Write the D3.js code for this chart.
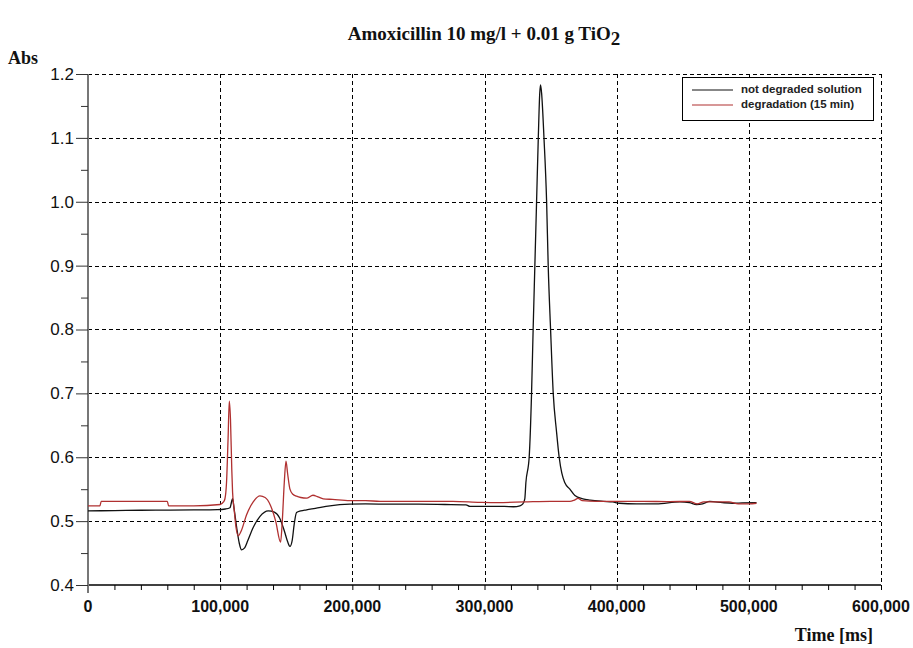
<!DOCTYPE html>
<html>
<head>
<meta charset="utf-8">
<script src="https://cdn.jsdelivr.net/npm/d3@7"></script>
<style>
  body { margin: 0; background: #fff; }
  svg { display: block; }
</style>
</head>
<body>
<svg id="chart" width="913" height="648"></svg>
<script>
// ---- Data ----
const xTicks = [0, 100000, 200000, 300000, 400000, 500000, 600000];
const yTicks = [0.4, 0.5, 0.6, 0.7, 0.8, 0.9, 1.0, 1.1, 1.2];
const seriesNames = ["not degraded solution", "degradation (15 min)"];

const notDegradedTime = [0, 20000, 40000, 60000, 80000, 98000, 104000, 107400, 109400, 110500, 112500, 114500, 116200, 118500, 121000, 125000, 130000, 136400, 141000, 145000, 148500, 151000, 152800, 154500, 156000, 157800, 161000, 165400, 172000, 183000, 198000, 210000, 230000, 250000, 270000, 286000, 289000, 300000, 315000, 322000, 326800, 329000, 330500, 331300, 333800, 335600, 336800, 338100, 339400, 340700, 341800, 342400, 343200, 345000, 347000, 348200, 350000, 352000, 354500, 356500, 358500, 360800, 364600, 368400, 374400, 380000, 390000, 397000, 402000, 415000, 430000, 447800, 455000, 460400, 465000, 470500, 480000, 488000, 495000, 505800];
const notDegradedAbs = [0.516, 0.5165, 0.517, 0.5172, 0.5175, 0.518, 0.519, 0.521, 0.535, 0.52, 0.49, 0.465, 0.455, 0.458, 0.47, 0.49, 0.507, 0.516, 0.514, 0.505, 0.485, 0.468, 0.4605, 0.47, 0.495, 0.5135, 0.516, 0.5177, 0.52, 0.524, 0.5266, 0.527, 0.5265, 0.5265, 0.526, 0.5255, 0.523, 0.523, 0.523, 0.5225, 0.524, 0.527, 0.535, 0.56, 0.6, 0.7, 0.8, 0.9, 1.0, 1.1, 1.17, 1.183, 1.17, 1.1, 1.0, 0.9, 0.8, 0.7, 0.64, 0.6, 0.575, 0.56, 0.55, 0.54, 0.535, 0.533, 0.531, 0.53, 0.528, 0.527, 0.527, 0.53, 0.529, 0.526, 0.527, 0.531, 0.529, 0.528, 0.5285, 0.529];

const degradedTime = [0, 9000, 10000, 60000, 61000, 80000, 100000, 102500, 103600, 104800, 106000, 106900, 107800, 108800, 109400, 110500, 112000, 113700, 116000, 120000, 125000, 130100, 134000, 138000, 142000, 145700, 147000, 148500, 149800, 151000, 152800, 155000, 157800, 161000, 165400, 170200, 174000, 178000, 185000, 198000, 210000, 221000, 236000, 256000, 276000, 296500, 310000, 330000, 350000, 364600, 368000, 370700, 374000, 385000, 400000, 420000, 440000, 455000, 461000, 466000, 475000, 485000, 492000, 500000, 505800];
const degradedAbs = [0.524, 0.524, 0.531, 0.531, 0.524, 0.524, 0.526, 0.53, 0.535, 0.56, 0.63, 0.688, 0.66, 0.58, 0.545, 0.52, 0.49, 0.477, 0.485, 0.51, 0.53, 0.5395, 0.537, 0.525, 0.5, 0.467, 0.5, 0.56, 0.594, 0.575, 0.55, 0.542, 0.539, 0.537, 0.536, 0.5405, 0.538, 0.535, 0.534, 0.532, 0.532, 0.531, 0.531, 0.531, 0.531, 0.5295, 0.529, 0.53, 0.531, 0.531, 0.533, 0.5355, 0.532, 0.531, 0.531, 0.531, 0.5305, 0.531, 0.527, 0.53, 0.53, 0.53, 0.527, 0.527, 0.528];

// ---- Layout ----
const svg = d3.select("#chart");
const margin = { left: 88, right: 32, top: 74, bottom: 63 };
const W = 913, H = 648;
const x = d3.scaleLinear().domain([0, 600000]).range([margin.left, W - margin.right]);
const y = d3.scaleLinear().domain([0.4, 1.2]).range([H - margin.bottom, margin.top]);

// Grid
const grid = svg.append("g").attr("stroke", "#000").attr("stroke-width", 1).attr("stroke-dasharray", "4,3");
grid.selectAll(".vg").data(xTicks.slice(1)).join("line")
  .attr("x1", d => Math.round(x(d)) + 0.5).attr("x2", d => Math.round(x(d)) + 0.5)
  .attr("y1", y(1.2)).attr("y2", y(0.4));
grid.selectAll(".hg").data(yTicks.slice(1)).join("line")
  .attr("x1", x(0)).attr("x2", x(600000))
  .attr("y1", d => Math.round(y(d)) + 0.5).attr("y2", d => Math.round(y(d)) + 0.5);

// X axis
const xAxis = d3.axisBottom(x).tickValues(d3.range(0, 600001, 20000)).tickSize(5).tickFormat("");
const gx = svg.append("g").attr("transform", `translate(0,${y(0.4)})`).call(xAxis);
gx.select(".domain").attr("stroke", "#000").attr("stroke-width", 1.5).attr("d", `M${x(0)},0H${x(600000)}`);
gx.selectAll(".tick line").attr("stroke", "#000");
svg.append("g").selectAll("text").data(xTicks).join("text")
  .attr("x", d => x(d)).attr("y", y(0.4) + 27)
  .attr("text-anchor", "middle")
  .attr("font-family", "'Liberation Sans', Arial, sans-serif")
  .attr("font-weight", "bold").attr("font-size", 16)
  .attr("fill", "#111")
  .text(d => d3.format(",")(d));

// Y axis
const yAxis = d3.axisLeft(y).tickValues(yTicks).tickSize(12).tickFormat(d3.format(".1f"));
const gy = svg.append("g").attr("transform", `translate(${x(0)},0)`).call(yAxis);
gy.select(".domain").attr("stroke", "#777").attr("stroke-width", 2).attr("d", `M0,${y(1.2)}V${y(0.4) + 8}`);
gy.selectAll(".tick line").attr("stroke", "#333").attr("x2", -12);
gy.selectAll(".tick text").attr("x", -14)
  .attr("font-family", "'Liberation Sans', Arial, sans-serif").attr("font-size", 17).attr("fill", "#111");
const yMinor = d3.axisLeft(y).tickValues(d3.range(0.45, 1.2, 0.1)).tickSize(7).tickFormat("");
const gym = svg.append("g").attr("transform", `translate(${x(0)},0)`).call(yMinor);
gym.select(".domain").remove();
gym.selectAll(".tick line").attr("stroke", "#333");

// Lines
const line = d3.line().x(d => x(d[0])).y(d => y(d[1])).curve(d3.curveMonotoneX);
const blackData = notDegradedTime.map((t, i) => [t, notDegradedAbs[i]]);
const redData = degradedTime.map((t, i) => [t, degradedAbs[i]]);
svg.append("path").datum(blackData).attr("d", line).attr("fill", "none")
  .attr("stroke", "#111").attr("stroke-width", 1.3);
svg.append("path").datum(redData).attr("d", line).attr("fill", "none")
  .attr("stroke", "#b03030").attr("stroke-width", 1.3);

// Title
const title = svg.append("text").attr("x", 484).attr("y", 40).attr("text-anchor", "middle")
  .attr("font-family", "'Liberation Serif', 'Times New Roman', serif")
  .attr("font-weight", "bold").attr("font-size", 19).attr("fill", "#111");
title.append("tspan").text("Amoxicillin 10 mg/l + 0.01 g TiO");
title.append("tspan").attr("dy", 5).text("2");

svg.append("text").attr("x", 8).attr("y", 64)
  .attr("font-family", "'Liberation Serif', 'Times New Roman', serif")
  .attr("font-weight", "bold").attr("font-size", 18).attr("fill", "#111").text("Abs");
svg.append("text").attr("x", 873).attr("y", 641).attr("text-anchor", "end")
  .attr("font-family", "'Liberation Serif', 'Times New Roman', serif")
  .attr("font-weight", "bold").attr("font-size", 18).attr("fill", "#111").text("Time [ms]");

// Legend
const lg = svg.append("g");
lg.append("rect").attr("x", 682.5).attr("y", 77.5).attr("width", 191).attr("height", 43)
  .attr("fill", "#fff").attr("stroke", "#000").attr("stroke-width", 1);
const colors = ["#111", "#b03030"];
seriesNames.forEach((name, i) => {
  const yy = 90 + i * 15;
  lg.append("line").attr("x1", 692).attr("x2", 733).attr("y1", yy).attr("y2", yy)
    .attr("stroke", colors[i]).attr("stroke-width", 1.2);
  lg.append("text").attr("x", 741).attr("y", yy + 3)
    .attr("font-family", "'Liberation Sans', Arial, sans-serif").attr("font-size", 11.5)
    .attr("font-weight", "bold").attr("fill", "#222").text(name);
});
</script>
</body>
</html>
